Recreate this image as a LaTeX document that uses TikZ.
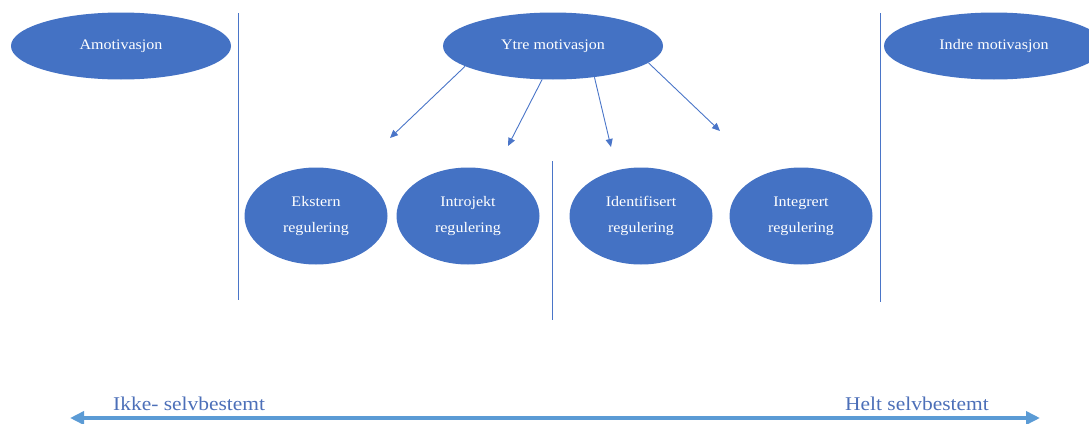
\documentclass[tikz,border=0pt]{standalone}
\usepackage{fontspec}
\setmainfont[FakeStretch=1.1]{Liberation Serif}
\usetikzlibrary{shapes.geometric,arrows.meta}
\definecolor{officeblue}{HTML}{4472C4}
\definecolor{linkblue}{HTML}{4A75C8}
\definecolor{axisblue}{HTML}{5B9BD5}
\definecolor{labelblue}{HTML}{4C6FB8}
\tikzset{
  ell/.style={ellipse, fill=officeblue, draw=none, inner sep=0pt, text=white,
    align=center, font=\fontsize{14.6}{26}\selectfont},
  bigell/.style={ell, minimum width=220pt, minimum height=67pt},
  regell/.style={ell, minimum width=143pt, minimum height=97pt},
  divider/.style={draw=linkblue, line width=1pt},
  link/.style={draw=linkblue, line width=0.9pt, -{Triangle[length=8pt,width=7pt]}},
  axis/.style={draw=axisblue, line width=4pt, {Triangle[length=14pt,width=13pt]}-{Triangle[length=14pt,width=13pt]}},
  axislabel/.style={text=labelblue, font=\fontsize{19.5}{22}\selectfont, anchor=base west, inner sep=0pt}
}
\begin{document}
\begin{tikzpicture}[x=1pt,y=-1pt]
\useasboundingbox (0,0) rectangle (1089,423);
\begin{scope}
\clip (0,0) rectangle (1089,423);
\node[bigell] (amot) at (121,46) {Amotivasjon};
\node[bigell] (ytre) at (553,46) {Ytre motivasjon};
\node[bigell] (indre) at (994,46) {Indre motivasjon};
\end{scope}
\node[regell] (ekst) at (316,216) {Ekstern\\regulering};
\node[regell] (intro) at (468,216) {Introjekt\\regulering};
\node[regell] (ident) at (641,216) {Identifisert\\regulering};
\node[regell] (integ) at (801,216) {Integrert\\regulering};
% dividers
\coordinate (d1t) at (238,13); \coordinate (d1b) at (238,300);
\coordinate (d2t) at (552,161); \coordinate (d2b) at (552,320);
\coordinate (d3t) at (880,13); \coordinate (d3b) at (880,302);
\draw[divider] (d1t) -- (d1b);
\draw[divider] (d2t) -- (d2b);
\draw[divider] (d3t) -- (d3b);
% arrows
\coordinate (e1) at (390,138);
\coordinate (e2) at (508,146);
\coordinate (e3) at (611,147);
\coordinate (e4) at (720,131);
\draw[link] (ytre.193) -- (e1);
\draw[link] (ytre.252) -- (e2);
\draw[link] (ytre.323) -- (e3);
\draw[link] (ytre.350) -- (e4);
% axis
\coordinate (al) at (70,418);
\coordinate (ar) at (1040,418);
\draw[axis] (al) -- (ar);
\node[axislabel] (ikke) at (113,410) {Ikke- selvbestemt};
\node[axislabel] (helt) at (845,410) {Helt selvbestemt};
\end{tikzpicture}
\end{document}
